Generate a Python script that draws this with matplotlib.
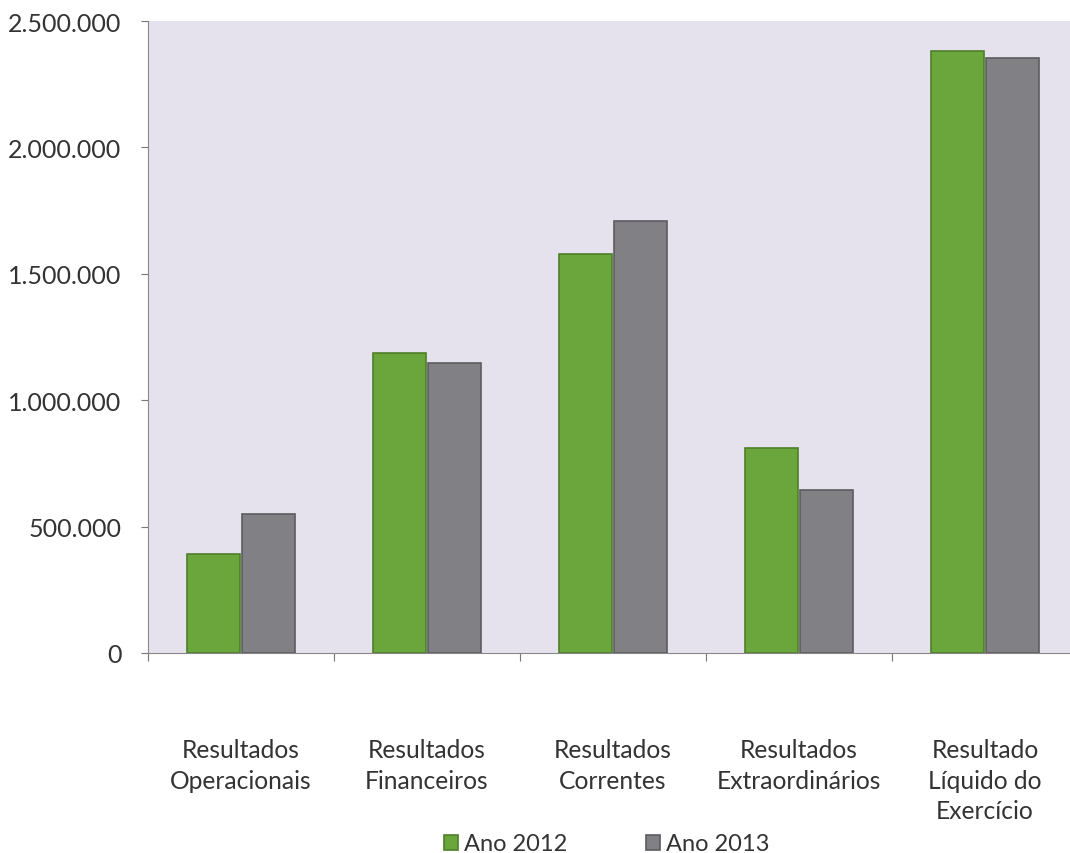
import numpy as np
import matplotlib.pyplot as plt
from matplotlib.ticker import FuncFormatter, FixedLocator

# dados
categorias = ["Resultados\nOperacionais", "Resultados\nFinanceiros", "Resultados\nCorrentes",
              "Resultados\nExtraordinários", "Resultado\nLíquido do\nExercício"]
ano_2012 = [390000, 1185000, 1578000, 812000, 2382000]
ano_2013 = [548000, 1147000, 1708000, 645000, 2352000]
series = ["Ano 2012", "Ano 2013"]

plt.rcParams['font.family'] = ['Lato', 'DejaVu Sans']

fig = plt.figure(figsize=(10.7, 8.54), dpi=100)
# eixo um pouco cortado à direita, como na imagem original
ax = fig.add_axes([148 / 1070, 1 - 654 / 854, 930 / 1070, 632 / 854])
ax.set_facecolor('#e5e2ed')

x = np.arange(len(categorias))
w = 0.28
ax.bar(x - w / 2 - 0.008, ano_2012, w, color='#6aa63c', edgecolor='#4f7f2a', linewidth=1.2, label=series[0])
ax.bar(x + w / 2 + 0.008, ano_2013, w, color='#808085', edgecolor='#5c5c60', linewidth=1.2, label=series[1])

ax.set_xlim(-0.5, len(categorias) - 0.5)
ax.set_ylim(0, 2500000)
ax.yaxis.set_major_locator(FixedLocator(np.arange(0, 2500001, 500000)))
ax.yaxis.set_major_formatter(FuncFormatter(lambda v, p: f"{int(v):,}".replace(",", ".")))
ax.tick_params(axis='y', labelsize=18, labelcolor='#333333', length=5, color='#777777', pad=14)

ax.set_xticks(np.arange(-0.5, len(categorias), 1.0))
ax.set_xticklabels([])
ax.tick_params(axis='x', length=6, color='#777777')
for i, c in enumerate(categorias):
    ax.text(i, -0.135, c, transform=ax.get_xaxis_transform(), ha='center', va='top',
            fontsize=17.7, color='#333333', linespacing=1.38)

for s in ['top', 'right']:
    ax.spines[s].set_visible(False)
ax.spines['left'].set_color('#888888')
ax.spines['bottom'].set_color('#888888')

fig.legend(loc='center', bbox_to_anchor=(0.567, 1 - 845 / 854), ncol=2, frameon=False,
           fontsize=17, handlelength=0.6, handleheight=0.6, handletextpad=0.25,
           columnspacing=3.3, labelcolor='#333333', borderpad=0)

fig.savefig('out.png', dpi=100)
